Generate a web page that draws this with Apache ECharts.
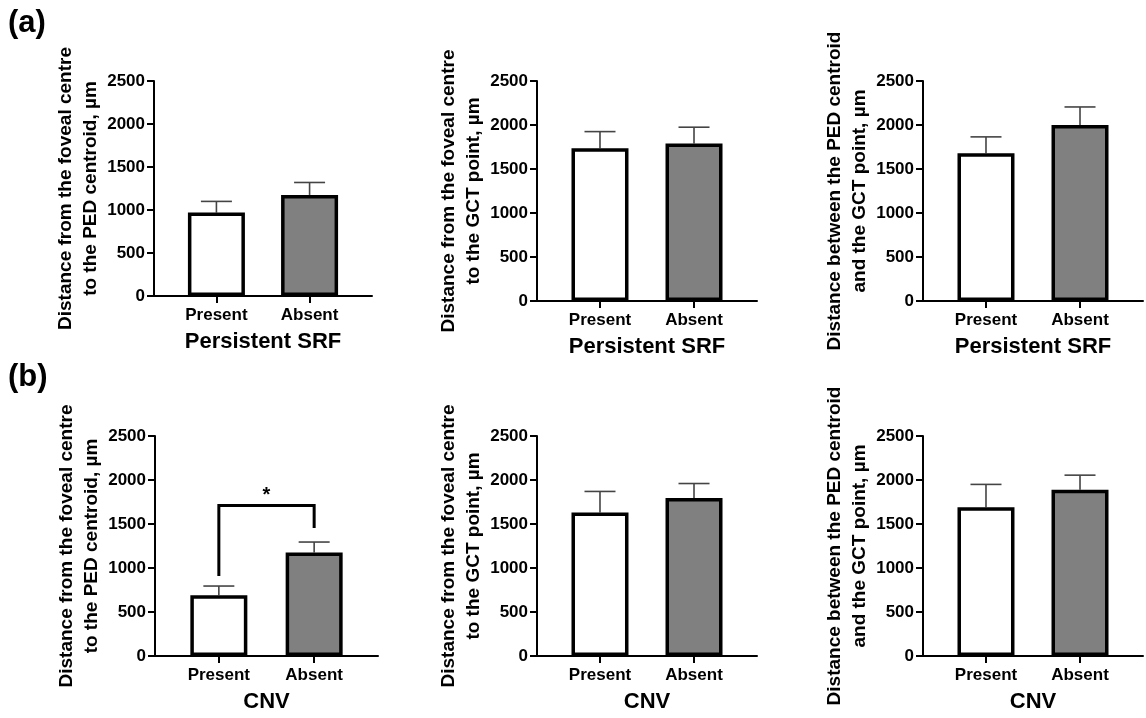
<!DOCTYPE html>
<html>
<head>
<meta charset="utf-8">
<script src="https://cdn.jsdelivr.net/npm/echarts@6/dist/echarts.min.js"></script>
<style>
html,body{margin:0;padding:0;background:#fff;}
#chart{width:1146px;height:718px;}
</style>
</head>
<body>
<div id="chart"></div>
<script>
// ---- Data ----
const categories = ['Present', 'Absent'];

const panelA1Mean = [970, 1175];
const panelA1Sem  = [130, 145];
const panelA2Mean = [1735, 1790];
const panelA2Sem  = [190, 185];
const panelA3Mean = [1680, 2000];
const panelA3Sem  = [185, 205];

const panelB1Mean = [690, 1175];
const panelB1Sem  = [105, 120];
const panelB2Mean = [1630, 1795];
const panelB2Sem  = [240, 165];
const panelB3Mean = [1690, 1890];
const panelB3Sem  = [260, 165];

const yTitleFoveaPED = 'Distance from the foveal centre\nto the PED centroid, µm';
const yTitleFoveaGCT = 'Distance from the foveal centre\nto the GCT point, µm';
const yTitlePEDGCT   = 'Distance between the PED centroid\nand the GCT point, µm';
const xTitleA = 'Persistent SRF';
const xTitleB = 'CNV';

// significance bracket (panel b, left): [top, leftEnd, rightEnd], label
const sigBracket = [1710, 910, 1455];
const sigLabel = '*';
const sigLabelY = 1820;

const panels = [
  {mean: panelA1Mean, sem: panelA1Sem, yTitle: yTitleFoveaPED, xTitle: xTitleA},
  {mean: panelA2Mean, sem: panelA2Sem, yTitle: yTitleFoveaGCT, xTitle: xTitleA},
  {mean: panelA3Mean, sem: panelA3Sem, yTitle: yTitlePEDGCT,   xTitle: xTitleA},
  {mean: panelB1Mean, sem: panelB1Sem, yTitle: yTitleFoveaPED, xTitle: xTitleB},
  {mean: panelB2Mean, sem: panelB2Sem, yTitle: yTitleFoveaGCT, xTitle: xTitleB},
  {mean: panelB3Mean, sem: panelB3Sem, yTitle: yTitlePEDGCT,   xTitle: xTitleB}
];

// ---- Layout ----
const FONT = '"Liberation Sans", Arial, sans-serif';
const grids = [
  {left: 154, top: 81,  width: 218, height: 215},
  {left: 537, top: 81,  width: 220, height: 220},
  {left: 923, top: 81,  width: 220, height: 220},
  {left: 155, top: 436, width: 223, height: 220},
  {left: 537, top: 436, width: 220, height: 220},
  {left: 923, top: 436, width: 220, height: 220}
];
const fills = ['#ffffff', '#808080'];

const xAxes = [], yAxes = [], series = [];
panels.forEach((p, i) => {
  xAxes.push({
    gridIndex: i, type: 'value', min: -0.67, max: 1.67,
    axisLine: {show: true, onZero: false, lineStyle: {color: '#000', width: 2}},
    axisTick: {show: true, customValues: [0, 1], length: 7, lineStyle: {color: '#000', width: 2}},
    axisLabel: {show: true, customValues: [0, 1], margin: 11,
      formatter: v => categories[Math.round(v)] || '',
      color: '#000', fontSize: 17, fontWeight: 'bold', fontFamily: FONT},
    splitLine: {show: false},
    name: p.xTitle, nameLocation: 'middle', nameGap: 35,
    nameTextStyle: {color: '#000', fontSize: 22, fontWeight: 'bold', fontFamily: FONT}
  });
  yAxes.push({
    gridIndex: i, type: 'value', min: 0, max: 2500, interval: 500,
    axisLine: {show: true, onZero: false, lineStyle: {color: '#000', width: 2}},
    axisTick: {show: true, length: 7, lineStyle: {color: '#000', width: 2}},
    axisLabel: {color: '#000', fontSize: 17, fontWeight: 'bold', fontFamily: FONT, margin: 9,
      formatter: v => String(v)},
    splitLine: {show: false},
    name: p.yTitle, nameLocation: 'middle', nameRotate: 90, nameGap: 50,
    nameTextStyle: {color: '#000', fontSize: 19, fontWeight: 'bold', fontFamily: FONT, lineHeight: 25, align: 'center'}
  });
  series.push({
    type: 'bar', xAxisIndex: i, yAxisIndex: i, barWidth: 57, z: 2,
    data: p.mean.map((m, k) => ({value: [k, m], itemStyle: {color: fills[k]}})),
    itemStyle: {borderColor: '#000', borderWidth: 3.5},
    emphasis: {disabled: true}
  });
  series.push({
    type: 'custom', xAxisIndex: i, yAxisIndex: i, z: 1,
    data: p.mean.map((m, k) => [k, m, m + p.sem[k]]),
    renderItem: (params, api) => {
      const b = api.coord([api.value(0), api.value(1)]);
      const t = api.coord([api.value(0), api.value(2)]);
      const st = {stroke: '#444', lineWidth: 1.6};
      return {type: 'group', children: [
        {type: 'line', shape: {x1: b[0], y1: b[1], x2: t[0], y2: t[1]}, style: st},
        {type: 'line', shape: {x1: t[0] - 15.5, y1: t[1], x2: t[0] + 15.5, y2: t[1]}, style: st}
      ]};
    }
  });
});

// significance bracket in panel b-left
series.push({
  type: 'custom', xAxisIndex: 3, yAxisIndex: 3, z: 3,
  data: [[0, 1, sigBracket[0], sigBracket[1], sigBracket[2], sigLabelY]],
  renderItem: (params, api) => {
    const lt = api.coord([api.value(0), api.value(2)]);
    const rt = api.coord([api.value(1), api.value(2)]);
    const lb = api.coord([api.value(0), api.value(3)]);
    const rb = api.coord([api.value(1), api.value(4)]);
    const s = api.coord([(api.value(0) + api.value(1)) / 2, api.value(5)]);
    return {type: 'group', children: [
      {type: 'polyline', shape: {points: [lb, lt, rt, rb]},
       style: {stroke: '#000', lineWidth: 3, fill: null}},
      {type: 'text', x: s[0], y: s[1],
       style: {text: sigLabel, fill: '#000', font: 'bold 20px ' + FONT, align: 'center', verticalAlign: 'middle'}}
    ]};
  }
});

const chart = echarts.init(document.getElementById('chart'), null, {renderer: 'canvas'});
chart.setOption({
  animation: false,
  backgroundColor: '#fff',
  grid: grids.map(g => Object.assign({containLabel: false}, g)),
  xAxis: xAxes,
  yAxis: yAxes,
  series: series,
  graphic: [
    {type: 'text', left: 8, top: 8, style: {text: '(a)', fill: '#000', font: 'bold 31px ' + FONT}},
    {type: 'text', left: 8, top: 362, style: {text: '(b)', fill: '#000', font: 'bold 31px ' + FONT}}
  ]
});
</script>
</body>
</html>
